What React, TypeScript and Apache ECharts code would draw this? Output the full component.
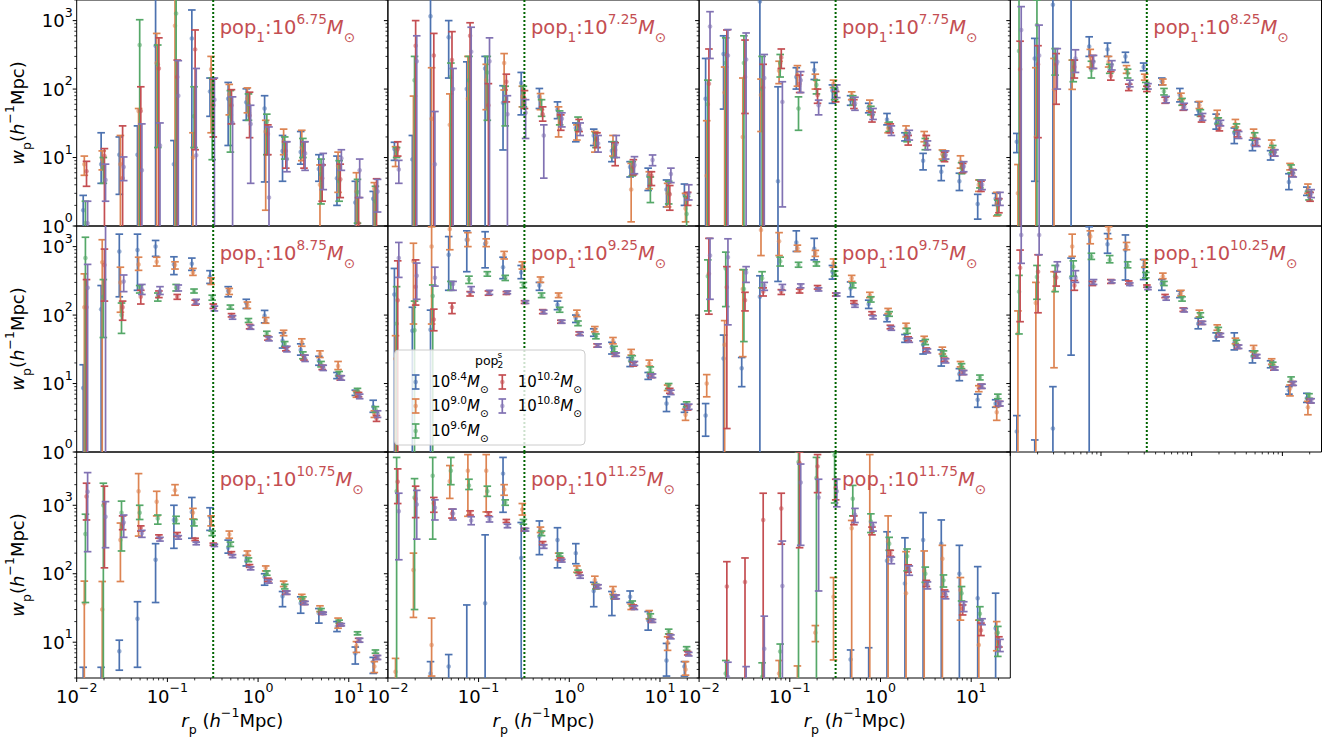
import React, { useEffect, useRef } from 'react';
import * as echarts from 'echarts';

// ---------------- data ----------------
const RP = [0.0118, 0.0186, 0.0295, 0.0468, 0.0741, 0.118, 0.186, 0.295, 0.468, 0.741, 1.18, 1.86, 2.95, 4.68, 7.41, 11.8, 18.6];
const POP1_LOGM = ['6.75', '7.25', '7.75', '8.25', '8.75', '9.25', '9.75', '10.25', '10.75', '11.25', '11.75'];
const POP2_LOGM = ['8.4', '9.0', '9.6', '10.2', '10.8'];
const COLORS = ['#4C72B0', '#DD8452', '#55A868', '#C44E52', '#8172B3'];
const CUT_RP = 0.32;
const X_LIM = [0.01, 27];
const Y_LIM_UPPER = [1, 2000];
const Y_LIM_LOWER = [3, 6000];
const X_MAJOR = [0.01, 0.1, 1, 10];
const X_MINOR = [0.02, 0.03, 0.04, 0.05, 0.06, 0.07, 0.08, 0.09, 0.2, 0.3, 0.4, 0.5, 0.6, 0.7, 0.8, 0.9, 2, 3, 4, 5, 6, 7, 8, 9, 20];
const Y_MAJOR_UPPER = [1, 10, 100, 1000];
const Y_MINOR_UPPER = [2, 3, 4, 5, 6, 7, 8, 9, 20, 30, 40, 50, 60, 70, 80, 90, 200, 300, 400, 500, 600, 700, 800, 900, 2000];
const Y_MAJOR_LOWER = [10, 100, 1000];
const Y_MINOR_LOWER = [3, 4, 5, 6, 7, 8, 9, 20, 30, 40, 50, 60, 70, 80, 90, 200, 300, 400, 500, 600, 700, 800, 900, 2000, 3000, 4000, 5000, 6000];

// each entry: [wp, lower end of error bar (0 = below axis), upper end]; wp 0 = marker not shown
const P1_B = [[1.7,0,2.8],[8,4.2,23],[11,2.9,20],[11,0,29],[430,0,5000],[8,0,17.7],[550,0,1430],[92,40,145],[72,15,125],[64,35,101],[52,4.4,80],[12.5,4.5,21],[12,8,24],[6.8,4.5,11],[5,2,10.5],[2.2,0,4.5],[2.5,0,3.2]];
const P1_O = [[8,5.5,10.5],[9.5,6.6,12.5],[8,0,21],[48,0,52],[240,0,650],[840,0,5000],[10,0,23],[195,23,300],[84,42,117],[73,45,104],[24,1.7,35],[17,11,26],[14,9,25],[4,0,7.8],[7.5,3.1,12],[3.2,0,6],[3.5,0,4.3]];
const P1_G = [[1.1,0,2.3],[7,4.2,10],[0,0,0],[440,0,1030],[230,14,440],[1270,0,5000],[40,14,108],[97,9.3,145],[40,12,95],[60,35,85],[33,11,43],[16,9.5,20],[15,10,19],[5.7,2.1,9.5],[4.5,2.3,9],[3.1,1.1,4.8],[2.3,0,3.8]];
const P1_R = [[6.3,3.8,8.8],[10.5,0,13.5],[5,0,29],[48,0,108],[200,0,560],[150,0,265],[380,13,730],[58,20,140],[58,31,98],[41,19.5,90],[22,11,30],[12.5,7,17],[12,7,17],[5,2.3,7.8],[4.8,2.6,8],[1.1,0,2.6],[3.8,0,4.9]];
const P1_P = [[1.1,0,2.3],[4.7,2.3,8],[7.3,4.6,10.2],[6.5,0,31],[15,0,32],[80,0,260],[10.8,0,200],[70,0,145],[32,0,77],[31,4.2,58],[2.6,0,28],[9.5,6.2,17],[11.5,6.5,17],[7.8,3.4,11.5],[9.8,6.5,13],[6.5,2.6,9.5],[3.2,1.6,4.8]];

const P2_B = [[13.3,9.1,16.7],[9.4,0,21],[1160,0,5000],[570,145,1000],[100,0,250],[200,0,300],[63,12.9,112],[123,42,175],[77,52,102],[50,37,65],[27,17,32],[21,15,26],[12.6,8.7,17],[7.3,5.2,8.7],[5.4,3.3,7],[3.4,1.9,4.7],[2.9,2,4.1]];
const P2_O = [[10.3,7.4,14.4],[0,0,79],[37,0,205],[30,0,85],[72,0,300],[135,50,230],[240,97,330],[77,55,110],[69,50,86],[42,20,55],[24,18,30],[16,12,24],[14.4,10.5,21],[3.4,1.15,8.2],[5.5,3.5,6.2],[3,1.9,4.2],[1.8,1.15,3]];
const P2_G = [[12.5,10,14],[135,0,300],[0,0,0],[150,0,240],[135,0,300],[175,35,300],[65,29,110],[89,55,110],[52,40,70],[39,30,48],[31,25,39],[18.5,14,23],[13.6,10,17],[6.9,5.4,8.7],[4.05,2.2,5.2],[3,2.1,4.5],[1.5,0,2.7]];
const P2_R = [[13.3,10.5,17],[430,0,1000],[310,0,650],[265,0,690],[600,0,930],[58,0,120],[128,65,165],[72,52,95],[43,34,55],[32,25,42],[30,24,36],[18.5,14,23],[12.9,7.6,16.5],[7.3,5.6,9.3],[5.4,3.9,6.2],[2.9,1.7,3.9],[2.45,2,3.1]];
const P2_P = [[6.7,4.2,9.1],[255,0,600],[8,0,47],[100,0,200],[350,0,800],[255,0,560],[43,0,80],[45,19,70],[21,5,30],[37,28,45],[26,21,32],[16,12,21],[15.7,10,21],[7.8,5.8,10.3],[9.2,7.6,10.9],[5.75,4.3,7],[3,2.4,4]];

const P3_B = [[72,0,280],[325,51,600],[0,0,0],[1900,0,5000],[4.5,0,108],[150,100,205],[190,138,245],[95,62,115],[69,58,80],[54,45,62],[36,30,44],[21,17.5,23],[9,6.6,11.5],[6.2,4.6,7.6],[4.5,3.3,5.9],[2.1,1.26,2.9],[2.5,2,3]];
const P3_O = [[5.4,0,34.5],[89,0,210],[20,0,145],[82,24,140],[185,120,255],[160,110,220],[135,100,165],[120,105,135],[82,70,91],[57,48,69],[27,23,32],[25,20,29],[21,17,24],[11.2,9.5,12.9],[8.7,7,10.6],[4,3.2,4.7],[2.1,1.4,3.1]];
const P3_G = [[60,0,135],[240,0,560],[240,0,600],[100,0,300],[240,150,320],[52,25,77],[115,85,135],[87,70,105],[72,58,80],[49,42,56],[28,24,33],[20,17,23],[16,13,19],[10.5,9,12.5],[7,5.8,8.4],[4.3,3.6,4.7],[2,1.45,2.4]];
const P3_R = [[120,0,385],[315,0,730],[150,44,520],[105,0,230],[290,200,385],[120,89,160],[82,62,100],[77,65,92],[60,52,70],[40,33,46],[27,23,31],[18.5,15.2,21],[18,15,21],[10.5,8.7,12],[7.4,6,8.2],[3.8,3.2,4.5],[2.1,1.56,2.5]];
const P3_P = [[820,280,1350],[310,0,740],[270,0,660],[145,0,320],[65,1.9,128],[135,89,180],[58,42,69],[97,75,115],[62,49,76],[44,36,52],[25,21,29],[22,18,25],[15.3,13,17.5],[10.9,9.5,12.5],[7.4,6.2,8.7],[4,3.4,4.7],[2.5,2,3.1]];

const P4_B = [[17,11.8,22.5],[280,4.5,550],[1700,0,5000],[2500,0,5000],[420,300,580],[380,300,470],[300,245,345],[210,185,240],[130,115,145],[82,65,102],[49,42,65],[31.5,26,43],[23,16,27],[15.2,12.6,18],[11.3,9.2,12.6],[4.4,3.4,5.8],[3.2,2.8,3.7]];
const P4_O = [[3,0,7.9],[20,0,205],[99,0,280],[185,99,265],[300,210,380],[250,210,300],[195,170,220],[150,135,165],[128,115,140],[77,70,87],[58,52,66],[42,37,49],[31,28,36],[22.5,19.5,26],[15.8,14,18],[7.5,6.6,8.2],[3.4,3,4.1]];
const P4_G = [[360,0,2500],[860,0,2000],[280,160,390],[185,128,265],[190,145,255],[200,170,230],[170,145,195],[110,100,125],[92,82,102],[65,58,73],[45,40,50],[34.5,31,38],[27,24,31],[20.5,18,23],[13.6,12,15],[7,6,7.8],[2.75,2.4,3.2]];
const P4_R = [[195,0,500],[230,19.5,430],[230,60,330],[210,145,265],[255,200,310],[155,135,180],[105,95,118],[102,92,110],[69,62,76],[54,49,60],[36,33,40],[27,24.5,29.5],[22.5,20,25],[17,15,19],[11.8,10.5,13],[6,5.3,6.7],[2.75,2.3,3.1]];
const P4_P = [[730,0,1600],[310,0,860],[250,100,390],[280,175,375],[250,200,310],[225,190,260],[120,108,135],[110,100,120],[70,63,78],[55,50,62],[39,35,44],[32,29,35],[21.5,19,24],[16.5,14.5,18.5],[11.8,10.5,13],[5.9,5.2,6.6],[3,2.6,3.4]];

const P5_B = [[8.6,0,18.8],[122,0,270],[850,185,1520],[890,230,1520],[1000,720,1230],[550,390,710],[560,450,680],[365,290,445],[225,185,260],[150,125,170],[98,77,117],[42,33,55],[31,26,38],[21.5,18.5,25],[13,11.8,14.5],[7.4,6.7,8],[4.6,3.8,5.7]];
const P5_O = [[130,0,400],[590,0,1260],[300,110,500],[550,450,700],[600,520,700],[540,470,600],[420,380,480],[315,280,350],[225,200,245],[140,125,155],[83,76,92],[56,50,60],[40,35,45],[27,24,30],[18,16,21],[7,6.3,7.7],[3.6,3.2,4]];
const P5_G = [[680,0,1370],[185,47,330],[100,54,150],[250,210,270],[185,160,210],[250,225,280],[225,210,240],[180,165,195],[130,122,140],[83,78,89],[54,50,58],[38,35,41],[26,23,29],[19.3,17.5,21],[14,13,15],[8,7.4,8.5],[4.2,3.8,4.6]];
const P5_R = [[130,0,330],[540,160,920],[130,84,160],[185,145,230],[200,180,225],[185,170,200],[155,140,165],[137,125,145],[100,94,105],[68,63,73],[46,43,49],[32,30,34],[24,22,26],[17.3,16,18.5],[12,11.2,13],[6.9,6.4,7.4],[3.1,2.8,3.4]];
const P5_P = [[250,0,550],[3000,0,5000],[310,220,385],[240,200,280],[225,200,260],[250,225,275],[158,145,170],[127,115,135],[93,87,98],[66,62,71],[45,42,48],[32,29,35],[23.5,21,26],[17,15.5,18.5],[12,11.2,13],[6.5,6,7],[3.6,3.2,4]];

const P6_B = [[200,0,480],[59,0,130],[61,0,118],[760,230,1400],[1260,430,1700],[1100,490,1650],[500,340,700],[420,340,530],[270,230,300],[140,120,160],[90,78,100],[56,49,63],[34,27,40],[21.5,17.7,24],[13,11.5,14.5],[5.1,3.9,6.4],[4.25,3.8,5]];
const P6_O = [[23,0,50],[610,74,1120],[1000,74,1950],[1800,900,3000],[1260,1000,1600],[1150,1000,1300],[760,660,850],[530,470,600],[335,300,360],[195,180,210],[105,95,118],[62,57,68],[42,38,47],[28.5,26,31.5],[19.7,18,22],[8.6,7.9,9.5],[3.5,2.9,4.2]];
const P6_G = [[75,0,260],[60,0,160],[190,0,275],[290,230,310],[330,290,370],[400,370,430],[350,320,380],[275,250,300],[195,180,210],[122,110,130],[76,70,82],[49,45,53],[32,29,35],[23.3,21,25.5],[16,14.5,17.5],[9.3,8.4,10],[5,4.6,5.4]];
const P6_R = [[165,0,620],[260,140,640],[86,59,122],[130,105,150],[205,190,220],[210,195,225],[210,200,220],[155,148,162],[113,105,120],[80,76,84],[54,51,57],[36,34,38],[26.5,25,28],[19.3,18,20.5],[13,12.2,13.8],[7.9,7.2,8.5],[4.5,4.1,4.9]];
const P6_P = [[680,355,1150],[375,170,575],[350,265,500],[285,230,310],[240,215,260],[215,200,230],[215,205,225],[155,148,162],[110,105,118],[80,76,84],[53,50,56],[36,34,38],[26.5,25,28],[19.7,18.5,21],[13,12.2,13.8],[7.4,6.9,8],[4.6,4.2,5]];

const P7_B = [[3.4,1.7,5.1],[23.3,0,51],[16.7,9,24],[185,0,375],[2500,310,5000],[1150,850,1700],[930,640,1320],[430,335,530],[245,185,305],[145,125,165],[90,80,100],[45,40,52],[37,27,42],[27,18,31],[13.8,11,16.5],[5.8,4.5,7],[5.1,4.5,5.8]];
const P7_O = [[10,6.4,13.5],[37,0,83],[240,24.7,460],[1750,740,2500],[1200,740,1600],[950,850,1050],[800,720,880],[570,500,660],[345,310,380],[195,180,215],[115,105,125],[70,64,76],[45,41,49],[30,27,34],[19.3,17.5,21],[8.6,7.6,9.3],[3.8,2.9,4.6]];
const P7_G = [[370,115,640],[480,133,830],[240,41,460],[345,250,430],[610,520,700],[540,500,590],[560,520,600],[400,370,440],[270,250,295],[170,155,185],[105,96,112],[59,54,64],[40,37,44],[27,25,30],[18,16.5,19.5],[12.3,11.3,13.3],[6.4,6,7]];
const P7_R = [[400,103,1320],[255,2.2,510],[165,115,215],[220,190,250],[220,200,235],[225,210,240],[255,240,270],[200,190,210],[155,148,162],[106,100,112],[67,63,71],[45,42,48],[31,29,33],[22,21,23.5],[14.6,13.5,15.5],[9.1,8.5,9.8],[5.1,4.7,5.5]];
const P7_P = [[740,170,1320],[700,72,1300],[420,300,510],[270,230,300],[255,230,280],[270,250,285],[235,225,250],[200,190,210],[137,130,142],[93,88,98],[64,60,68],[43,40,46],[30,28,32],[21.5,20,23],[14.6,13.5,15.5],[9.1,8.5,9.8],[5.1,4.7,5.5]];

const P8_B = [[2,0,3.4],[0,0,1.5],[2.2,0,9],[350,26,680],[1500,0,1950],[1080,800,1550],[890,325,1480],[500,330,650],[290,230,330],[200,180,225],[75,63,90],[48,42,55],[39,31,55],[25,20,30],[19,17,21.5],[8,7,9],[6.1,5.3,7.2]];
const P8_O = [[54,0,115],[150,0,300],[225,17,430],[1000,720,1520],[1400,1100,1700],[1760,1300,1950],[1000,900,1150],[560,500,640],[370,340,410],[210,190,230],[105,94,118],[66,60,72],[42,38,46],[32.5,29,36],[21,19,23],[8.5,6.6,9.5],[4.5,3.5,5.5]];
const P8_G = [[220,53,380],[360,170,530],[370,220,530],[510,370,620],[710,650,800],[640,580,740],[530,490,600],[390,350,420],[290,270,310],[175,160,185],[100,93,108],[60,55,66],[39.5,36,43],[28,25.5,30],[19.2,17.8,20.5],[11.5,10.6,12.5],[6.6,6.1,7.1]];
const P8_R = [[490,80,890],[430,108,760],[355,265,430],[270,230,320],[290,270,310],[310,290,330],[300,285,315],[265,255,275],[190,180,200],[120,113,127],[77,73,81],[51,48,54],[34.5,32.5,36.5],[25,23.5,26.5],[16.6,15.7,17.5],[10,9.4,10.7],[5.6,5.2,6]];
const P8_P = [[1480,570,2500],[1480,760,2500],[530,430,600],[350,300,445],[300,280,330],[310,295,325],[280,270,295],[245,235,255],[175,165,185],[118,111,125],[77,73,81],[51,48,54],[34.5,32.5,36.5],[25,23.5,26.5],[16.6,15.7,17.5],[10,9.4,10.7],[5.6,5.2,6]];

const P9_B = [[2,0,4.3],[2,0,4.3],[7.4,3.9,10.7],[22,4.3,39],[160,38,275],[610,235,1000],[800,330,1300],[680,430,920],[240,200,310],[155,130,185],[90,68,100],[47,33,55],[37,26.5,46],[26.5,19,31],[17,14.3,20],[6.9,4.8,8.5],[5.2,3.5,6]];
const P9_O = [[37,0,78],[30,0,77],[310,77,550],[1600,355,2900],[1130,700,1600],[1660,1400,2000],[780,630,900],[580,500,700],[375,330,420],[200,185,215],[122,110,130],[72,65,78],[47,43,50],[30,28,34],[18,16,22.5],[8.8,7.1,10.2],[4.4,3.6,5.2]];
const P9_G = [[380,38,740],[1000,0,2100],[780,215,1150],[780,620,1000],[640,530,720],[610,540,690],[550,500,620],[390,360,420],[270,250,290],[160,150,170],[102,95,110],[65,60,70],[43,40,46],[29.5,28,31],[20,19,21],[13.5,12.8,14.2],[7.3,6.9,7.7]];
const P9_R = [[1340,610,2100],[1070,122,1900],[530,440,700],[470,420,500],[350,330,370],[375,350,400],[320,305,330],[270,260,280],[200,190,210],[130,124,136],[81,77,86],[53,50,56],[37.5,35.5,39.5],[26.5,25.5,27.5],[18,17.3,18.7],[10.7,10,11.4],[6,5.6,6.4]];
const P9_P = [[1580,210,3000],[680,240,1130],[560,340,720],[390,340,430],[320,300,340],[340,320,360],[280,265,290],[260,250,270],[180,172,190],[120,114,126],[77,73,82],[53,50,56],[37.5,35.5,39.5],[26.5,25.5,27.5],[18,17.3,18.7],[10.7,10,11.4],[6,5.6,6.4]];

const P10_B = [[0,0,0],[0,0,0],[3.5,0,5.2],[4.4,0,6.6],[2,0,35],[37,0,370],[2900,790,5000],[170,0,560],[350,190,590],[310,122,470],[200,140,275],[56,33,75],[46,24.5,55],[46,38,56],[21,15,28],[5.4,3.2,9.6],[4.4,3.2,5.2]];
const P10_O = [[3.7,0,5.8],[113,23,200],[9.1,3.2,22.5],[2250,1260,3800],[3200,690,5500],[3200,800,5500],[1700,1400,2000],[870,720,1060],[440,400,480],[178,160,200],[117,105,130],[81,70,92],[58,50,65],[33,30,36],[25,22,29],[9.8,7.6,12],[4,3.3,5.2]];
const P10_G = [[1600,0,5000],[1300,30,2450],[2700,320,5000],[3200,2000,5000],[1950,1700,2400],[1600,1350,1900],[1100,1000,1200],[590,530,620],[390,360,420],[190,180,200],[108,103,113],[65,60,70],[46,43,49],[37,34,40],[24,22,26],[14.3,13.2,15.5],[8.1,7.6,8.6]];
const P10_R = [[2200,1060,3400],[1250,660,1900],[1070,790,1300],[760,650,880],[780,720,830],[750,700,800],[590,560,620],[440,420,460],[280,265,295],[162,155,170],[100,95,105],[65,61,69],[46,43,49],[33,31,35],[20.5,19.5,21.5],[12.3,11.5,13],[6.9,6.5,7.3]];
const P10_P = [[820,160,1500],[1030,320,1650],[920,610,1200],[760,610,880],[600,520,680],[620,570,680],[500,470,530],[440,420,460],[250,235,265],[155,148,162],[90,86,95],[65,61,69],[46,43,49],[32,30,34],[20.5,19.5,21.5],[12,11.2,12.8],[6.7,6.3,7.1]];

const P11_B = [[0,0,0],[0,0,0],[0,0,0],[0,0,0],[0,0,0],[0,0,0],[0,0,0],[0,0,0],[5.6,0,7.7],[0,0,8.3],[155,0,410],[72,0,335],[310,0,780],[275,0,610],[100,0,260],[44,0,127],[16,0,52]];
const P11_O = [[0,0,0],[0,0,0],[0,0,0],[0,0,0],[3.5,0,5.4],[2,0,4.5],[13.8,10.2,17.5],[46,5.5,88],[460,0,600],[0,0,5500],[295,0,700],[52,0,210],[110,0,215],[165,0,260],[58,21,88],[9.1,0,21],[13.5,7.5,20]];
const P11_G = [[0,0,0],[3.5,0,5.4],[0,0,0],[3.1,0,5],[7.3,0,9.4],[4300,0,6000],[2500,0,5000],[5400,1080,6000],[1250,700,1950],[580,400,750],[275,220,340],[180,110,230],[100,75,125],[80,64,96],[52,40,65],[26,21,33],[13.8,6.2,17]];
const P11_R = [[0,0,0],[65,0,150],[76,0,170],[610,0,1500],[900,270,1500],[4100,240,6000],[3700,1530,5500],[1800,1200,2400],[600,520,700],[420,370,480],[200,180,220],[120,105,135],[72,65,80],[52,46,58],[31,25,35],[15,12.5,19],[10.2,8.5,12]];
const P11_P = [[0,0,0],[3.1,0,5.1],[2.5,0,4.4],[8,0,24],[66,0,300],[2150,260,4000],[1300,56,2400],[1600,950,2400],[730,560,900],[500,420,560],[160,140,175],[113,95,130],[68,60,76],[49,43,55],[35,28,39],[20,18,22],[8.6,7.3,11]];

const PANELS = [
  [P1_B, P1_O, P1_G, P1_R, P1_P],
  [P2_B, P2_O, P2_G, P2_R, P2_P],
  [P3_B, P3_O, P3_G, P3_R, P3_P],
  [P4_B, P4_O, P4_G, P4_R, P4_P],
  [P5_B, P5_O, P5_G, P5_R, P5_P],
  [P6_B, P6_O, P6_G, P6_R, P6_P],
  [P7_B, P7_O, P7_G, P7_R, P7_P],
  [P8_B, P8_O, P8_G, P8_R, P8_P],
  [P9_B, P9_O, P9_G, P9_R, P9_P],
  [P10_B, P10_O, P10_G, P10_R, P10_P],
  [P11_B, P11_O, P11_G, P11_R, P11_P],
];

// ---------------- layout ----------------
const FONT = 'DejaVu Sans';
const LEFT0 = 76.7;
const PW = 311.2;
const PH = 226;
const ROW_TOP = [0, 226, 452];

function richSet(F: number, color: string, L: number) {
  const s = F * 0.7;
  const base = { color, fontFamily: FONT, fontWeight: 'normal' };
  return {
    m: { ...base, fontSize: F, lineHeight: L },
    a: { ...base, fontSize: F, lineHeight: L },
    it: { ...base, fontSize: F, lineHeight: L, fontStyle: 'italic' },
    sup: { ...base, fontSize: s, lineHeight: s, verticalAlign: 'top' },
    sub: { ...base, fontSize: s, lineHeight: L - 0.56 * F, verticalAlign: 'bottom' },
  };
}

function decadeLabel(v: number) {
  const e = Math.log10(v);
  const r = Math.round(e);
  if (Math.abs(e - r) > 1e-6) return '';
  return `{m|10}{sup|${r < 0 ? '\u2212' + -r : r}}`;
}

function errRender(color: string, si: number) {
  return (params: any, api: any) => {
    const hi = api.value(3);
    if (!(hi > 0)) return { type: 'group', children: [] };
    const x = api.value(0);
    const v = api.value(1);
    const lo = api.value(2);
    const cs = params.coordSys;
    const top = cs.y;
    const bot = cs.y + cs.height;
    const pHi = api.coord([x, hi]);
    const px = pHi[0] + si * 1.1;
    const yHi = pHi[1];
    const yLo = lo > 0 ? api.coord([x, lo])[1] : bot + 3;
    const ch: any[] = [];
    const y1 = Math.max(yHi, top - 2);
    const y2 = Math.min(yLo, bot + 2);
    const st = { stroke: color, lineWidth: 1.7 };
    if (y2 > y1) ch.push({ type: 'line', shape: { x1: px, y1, x2: px, y2 }, style: st });
    const cw = 3.8;
    if (yHi >= top - 1 && yHi <= bot + 1) ch.push({ type: 'line', shape: { x1: px - cw, y1: yHi, x2: px + cw, y2: yHi }, style: st });
    if (lo > 0 && yLo >= top - 1 && yLo <= bot + 1) ch.push({ type: 'line', shape: { x1: px - cw, y1: yLo, x2: px + cw, y2: yLo }, style: st });
    if (v > 0) {
      const yv = api.coord([x, v])[1];
      if (yv >= top - 3 && yv <= bot + 3) ch.push({ type: 'circle', shape: { cx: px, cy: yv, r: 2.3 }, style: { fill: color, opacity: 0.55 } });
    }
    return { type: 'group', children: ch };
  };
}

function tickRender(params: any, api: any) {
  const cs = params.coordSys;
  const p = api.coord([api.value(0), api.value(1)]);
  const major = api.value(3) === 1;
  const len = major ? 4 : 2.4;
  const st = { stroke: '#000', lineWidth: major ? 1 : 0.8 };
  if (api.value(2) === 0) {
    return { type: 'line', shape: { x1: cs.x - len, y1: p[1], x2: cs.x, y2: p[1] }, style: st };
  }
  const yb = cs.y + cs.height;
  return { type: 'line', shape: { x1: p[0], y1: yb, x2: p[0], y2: yb + len }, style: st };
}

function buildOption() {
  const grids: any[] = [];
  const xAxes: any[] = [];
  const yAxes: any[] = [];
  const series: any[] = [];
  const titles: any[] = [];
  const tickRich = richSet(18, '#000', 30);
  const nameRich = richSet(18, '#000', 30);
  const titleRich = richSet(19.5, '#C44E52', 32);

  PANELS.forEach((pan, i) => {
    const r = Math.floor(i / 4);
    const c = i % 4;
    const left = LEFT0 + c * PW;
    const top = ROW_TOP[r];
    const ylim = r === 2 ? Y_LIM_LOWER : Y_LIM_UPPER;
    const yMaj = r === 2 ? Y_MAJOR_LOWER : Y_MAJOR_UPPER;
    const yMin = r === 2 ? Y_MINOR_LOWER : Y_MINOR_UPPER;
    const bottomRow = r === 2;
    const showXTicks = bottomRow || i === 7;

    grids.push({ left, top, width: PW, height: PH, show: true, borderColor: '#000', borderWidth: 1, backgroundColor: 'transparent', containLabel: false, outerBoundsMode: 'none' });

    xAxes.push({
      type: 'log', logBase: 10, gridIndex: i, min: X_LIM[0], max: X_LIM[1],
      axisLine: { show: false }, axisTick: { show: false }, splitLine: { show: false },
      axisLabel: { show: bottomRow, margin: 3, color: '#000', formatter: decadeLabel, rich: tickRich },
      name: bottomRow ? '{it|r}{sub|p}{m| (}{it|h}{sup|\u22121}{m|Mpc)}' : '',
      nameLocation: 'middle', nameGap: 22,
      nameTextStyle: { rich: nameRich, color: '#000' },
    });
    yAxes.push({
      type: 'log', logBase: 10, gridIndex: i, min: ylim[0], max: ylim[1],
      axisLine: { show: false }, axisTick: { show: false }, splitLine: { show: false },
      axisLabel: { show: c === 0, margin: 4, color: '#000', formatter: decadeLabel, rich: tickRich },
      name: c === 0 ? '{it|w}{sub|p}{m|(}{it|h}{sup|\u22121}{m|Mpc)}' : '',
      nameLocation: 'middle', nameGap: 44, nameRotate: 90,
      nameTextStyle: { rich: nameRich, color: '#000' },
    });

    pan.forEach((arr, si) => {
      series.push({
        type: 'custom', name: POP2_LOGM[si], xAxisIndex: i, yAxisIndex: i,
        clip: true, silent: true, z: 2,
        encode: { x: 0, y: 3 },
        renderItem: errRender(COLORS[si], si),
        data: arr.map((t, k) => [RP[k], t[0], t[1], t[2]]),
      });
    });

    series.push({
      type: 'line', xAxisIndex: i, yAxisIndex: i, silent: true, z: 4,
      symbol: 'none', showSymbol: false,
      lineStyle: { color: '#006400', width: 2, type: [2, 2] },
      data: [[CUT_RP, ylim[0]], [CUT_RP, ylim[1]]],
    });

    const tickData: any[] = [];
    yMaj.forEach((t) => tickData.push([X_LIM[0], t, 0, 1]));
    yMin.forEach((t) => tickData.push([X_LIM[0], t, 0, 0]));
    if (showXTicks) {
      X_MAJOR.forEach((t) => tickData.push([t, ylim[0], 1, 1]));
      X_MINOR.forEach((t) => tickData.push([t, ylim[0], 1, 0]));
    }
    series.push({
      type: 'custom', xAxisIndex: i, yAxisIndex: i, clip: false, silent: true, z: 10,
      encode: { x: 0, y: 1 },
      renderItem: tickRender,
      data: tickData,
    });

    titles.push({
      text: `{a|pop}{sub|1}{a|:10}{sup|${POP1_LOGM[i]}}{it|M}{sub|\u2299}`,
      left: left + 143, top: top + 27.5 - 16, padding: 0,
      textStyle: { fontSize: 19.5, fontWeight: 'normal', color: '#C44E52', rich: titleRich },
    });
  });

  // legend drawn as graphic in panel 6
  const legRich = richSet(15, '#000', 24);
  const g: any[] = [];
  g.push({ type: 'rect', shape: { x: 394.5, y: 350, width: 190.5, height: 95, r: 4 }, style: { fill: 'rgba(255,255,255,0.8)', stroke: '#cccccc', lineWidth: 1 }, z: 100 });
  g.push({ type: 'text', x: 475, y: 360, style: { text: 'pop', fontSize: 12.5, fontFamily: FONT, fill: '#000', verticalAlign: 'middle', align: 'left' }, z: 101 });
  g.push({ type: 'text', x: 497.5, y: 355, style: { text: 's', fontSize: 9, fontFamily: FONT, fill: '#000', verticalAlign: 'middle', align: 'left' }, z: 101 });
  g.push({ type: 'text', x: 497.5, y: 365, style: { text: '2', fontSize: 9, fontFamily: FONT, fill: '#000', verticalAlign: 'middle', align: 'left' }, z: 101 });
  const slots = [[415.7, 382], [415.7, 406], [415.7, 431], [502.3, 382], [502.3, 406]];
  POP2_LOGM.forEach((m, si) => {
    const [mx, my] = slots[si];
    const st = { stroke: COLORS[si], lineWidth: 1.7 };
    g.push({ type: 'line', shape: { x1: mx, y1: my - 7, x2: mx, y2: my + 7 }, style: st, z: 101 });
    g.push({ type: 'line', shape: { x1: mx - 3.8, y1: my - 7, x2: mx + 3.8, y2: my - 7 }, style: st, z: 101 });
    g.push({ type: 'line', shape: { x1: mx - 3.8, y1: my + 7, x2: mx + 3.8, y2: my + 7 }, style: st, z: 101 });
    g.push({ type: 'circle', shape: { cx: mx, cy: my, r: 2.3 }, style: { fill: COLORS[si], opacity: 0.55 }, z: 101 });
    g.push({ type: 'text', x: mx + 15.5, y: my, style: { text: `{m|10}{sup|${m}}{it|M}{sub|\u2299}`, rich: legRich, verticalAlign: 'middle', align: 'left' }, z: 101 });
  });

  return {
    animation: false,
    backgroundColor: '#ffffff',
    textStyle: { fontFamily: FONT },
    title: titles,
    grid: grids,
    xAxis: xAxes,
    yAxis: yAxes,
    series,
    graphic: g,
  };
}

export default function App() {
  const ref = useRef<HTMLDivElement>(null);
  useEffect(() => {
    const chart = echarts.init(ref.current as HTMLDivElement, undefined, { renderer: 'svg' });
    chart.setOption(buildOption() as any);
    return () => chart.dispose();
  }, []);
  return <div ref={ref} style={{ position: 'absolute', left: 0, top: 0, width: 1342, height: 740, background: '#fff' }} />;
}
